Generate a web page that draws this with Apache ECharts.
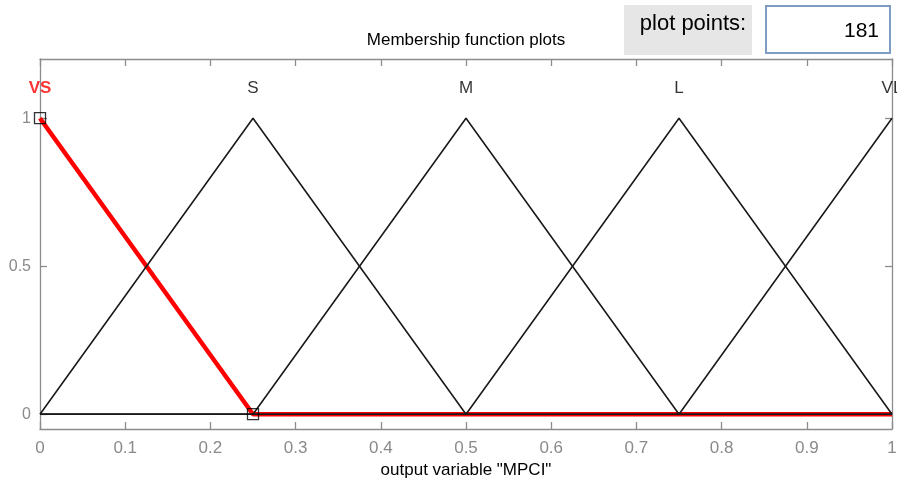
<!DOCTYPE html>
<html>
<head>
<meta charset="utf-8">
<script src="https://cdn.jsdelivr.net/npm/echarts@6/dist/echarts.min.js"></script>
<style>
  html, body { margin: 0; padding: 0; background: #fff; }
  #chart { width: 897px; height: 483px; }
</style>
</head>
<body>
<div id="chart"></div>
<script>
// membership functions, sampled at their break points
const xs = [0, 0.25, 0.5, 0.75, 1]
const mfNames = ['VS', 'S', 'M', 'L', 'VL']
const mfValues = [
  [1, 0, 0, 0, 0],   // VS
  [0, 1, 0, 0, 0],   // S
  [0, 0, 1, 0, 0],   // M
  [0, 0, 0, 1, 0],   // L
  [0, 0, 0, 0, 1]    // VL
]
const selected = 0              // VS is highlighted
const selectedHandles = [[0, 1], [0.25, 0]]
const labelY = 1.1
const xTicks = [0, 0.1, 0.2, 0.3, 0.4, 0.5, 0.6, 0.7, 0.8, 0.9, 1]
const yTicks = [0, 0.5, 1]
const plotPoints = '181'

const FONT = '"Liberation Sans", Arial, sans-serif'
const AXIS_GRAY = '#8c8c8c'

const chart = echarts.init(document.getElementById('chart'))

const pairs = vals => xs.map((x, i) => [x, vals[i]])

const series = []
// highlighted MF underneath, the others draw over it
series.push({
  type: 'line',
  data: pairs(mfValues[selected]),
  symbol: 'none',
  lineStyle: { color: '#ff0000', width: 4.5 },
  z: 2,
  silent: true
})
mfValues.forEach((vals, i) => {
  if (i === selected) return
  series.push({
    type: 'line',
    data: pairs(vals),
    symbol: 'none',
    lineStyle: { color: '#1a1a1a', width: 1.6 },
    z: 3,
    silent: true
  })
})
// MF name labels
const nameData = mfNames.map((n, i) => ({ value: [xs[i], labelY], name: n }))
nameData[selected].label = { color: '#ff0000', fontWeight: 'bold' }
series.push({
  type: 'scatter',
  data: nameData,
  symbolSize: 0,
  label: {
    show: true,
    position: 'inside',
    formatter: p => p.name,
    fontFamily: FONT,
    fontSize: 17,
    color: '#000'
  },
  z: 5,
  silent: true
})
// selection handles
series.push({
  type: 'scatter',
  data: selectedHandles,
  symbol: 'rect',
  symbolSize: 11,
  itemStyle: { color: 'rgba(0,0,0,0)', borderColor: '#000', borderWidth: 1.3 },
  z: 6,
  silent: true
})

const axisLine = { show: true, onZero: false, lineStyle: { color: AXIS_GRAY, width: 1.3 } }
const tickStyle = { color: AXIS_GRAY, width: 1.3 }

const option = {
  animation: false,
  backgroundColor: '#fff',
  grid: { left: 40, right: 5, top: 59, bottom: 54, outerBoundsMode: 'none' },
  xAxis: [
    {
      type: 'value',
      min: 0,
      max: 1,
      interval: 0.1,
      position: 'bottom',
      name: 'output variable "MPCI"',
      nameLocation: 'middle',
      nameGap: 31,
      nameTextStyle: { fontFamily: FONT, fontSize: 17, color: '#000' },
      axisLine: axisLine,
      axisTick: { show: true, inside: true, length: 7, lineStyle: tickStyle },
      axisLabel: {
        fontFamily: FONT, fontSize: 17, color: '#8a8a8a', margin: 11,
        formatter: v => xTicks.includes(+v.toFixed(1)) ? String(+v.toFixed(1)) : ''
      },
      splitLine: { show: false }
    },
    {
      type: 'value',
      min: 0,
      max: 1,
      interval: 0.1,
      position: 'top',
      axisLine: axisLine,
      axisTick: { show: true, inside: true, length: 7, lineStyle: tickStyle },
      axisLabel: { show: false },
      splitLine: { show: false }
    }
  ],
  yAxis: [
    {
      type: 'value',
      min: -0.05,
      max: 1.2,
      position: 'left',
      axisLine: axisLine,
      axisTick: { show: true, inside: true, length: 7, customValues: yTicks, lineStyle: tickStyle },
      axisLabel: { customValues: yTicks, fontFamily: FONT, fontSize: 16, color: '#8a8a8a', margin: 9 },
      splitLine: { show: false }
    },
    {
      type: 'value',
      min: -0.05,
      max: 1.2,
      position: 'right',
      axisLine: axisLine,
      axisTick: { show: true, inside: true, length: 7, customValues: yTicks, lineStyle: tickStyle },
      axisLabel: { show: false },
      splitLine: { show: false }
    }
  ],
  series: series,
  graphic: [
    {
      type: 'text',
      x: 466,
      y: 40,
      style: { text: 'Membership function plots', font: '17px ' + FONT, fill: '#000', align: 'center', verticalAlign: 'middle' }
    },
    {
      type: 'rect',
      shape: { x: 624, y: 5, width: 128, height: 50 },
      style: { fill: '#e6e6e6' }
    },
    {
      type: 'text',
      x: 693,
      y: 24,
      style: { text: 'plot points:', font: '22px ' + FONT, fill: '#000', align: 'center', verticalAlign: 'middle' }
    },
    {
      type: 'rect',
      shape: { x: 766, y: 6, width: 124, height: 47 },
      style: { fill: '#fff', stroke: '#7f9dc4', lineWidth: 2 }
    },
    {
      type: 'text',
      x: 879,
      y: 31,
      style: { text: plotPoints, font: '21px ' + FONT, fill: '#000', align: 'right', verticalAlign: 'middle' }
    }
  ]
}

chart.setOption(option)
</script>
</body>
</html>
